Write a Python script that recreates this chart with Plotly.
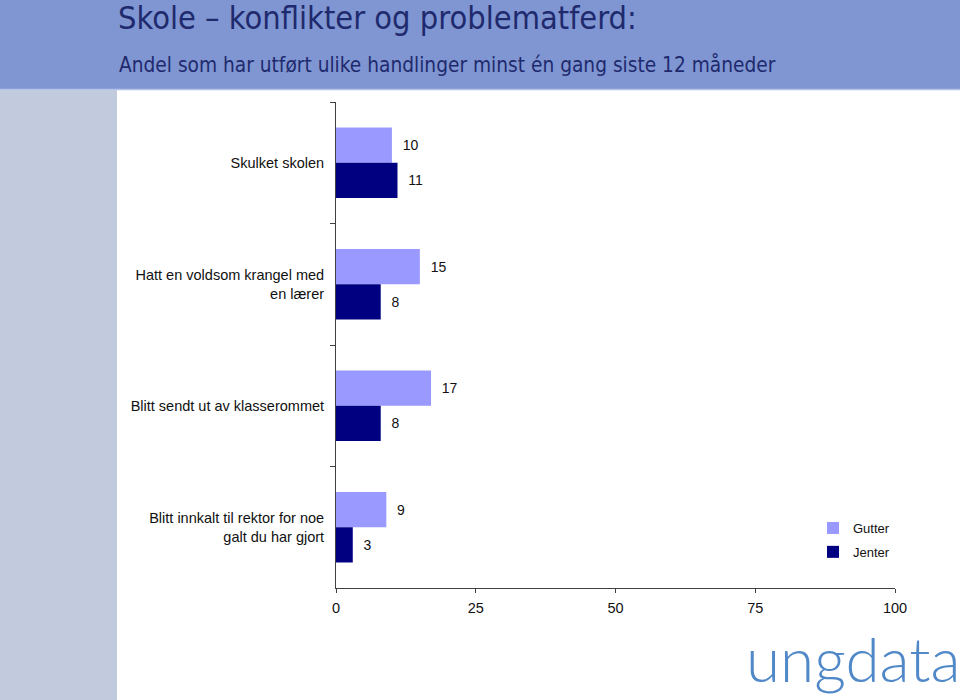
import plotly.graph_objects as go

categories = [
    "Skulket skolen",
    "Hatt en voldsom krangel med<br>en lærer",
    "Blitt sendt ut av klasserommet",
    "Blitt innkalt til rektor for noe<br>galt du har gjort",
]
gutter = [10, 15, 17, 9]
jenter = [11, 8, 8, 3]
x_ticks = [0, 25, 50, 75, 100]

title_text = "Skole – konflikter og problematferd:"
subtitle_text = "Andel som har utført ulike handlinger minst én gang siste 12 måneder"

W, H = 960, 700
L, R, T, B = 336, 65, 102, 112
pw, ph = W - L - R, H - T - B


def px(x):
    return (x - L) / pw


def py(y):
    return (H - B - y) / ph


FONT = "Liberation Sans, Arial, sans-serif"
HEAD_FONT = "DejaVu Sans Condensed, Liberation Sans Narrow, Arial Narrow, sans-serif"

fig = go.Figure()
fig.add_trace(go.Bar(
    y=categories, x=gutter, orientation="h", name="Gutter", legendgroup="g",
    marker=dict(color="#9999ff", line=dict(width=0)),
    text=[f"  {v}" for v in gutter], textposition="outside",
    textfont=dict(family=FONT, size=14, color="#111111"),
    cliponaxis=False,
))
fig.add_trace(go.Bar(
    y=categories, x=jenter, orientation="h", name="Jenter", legendgroup="j",
    marker=dict(color="#000080", line=dict(width=0)),
    text=[f"  {v}" for v in jenter], textposition="outside",
    textfont=dict(family=FONT, size=14, color="#111111"),
    cliponaxis=False,
))

shapes = [
    # header band
    dict(type="rect", xref="paper", yref="paper", x0=px(0), x1=px(W), y0=py(89), y1=py(0),
         fillcolor="#7f96d2", line=dict(width=0), layer="below"),
    dict(type="line", xref="paper", yref="paper", x0=px(0), x1=px(W), y0=py(89.5), y1=py(89.5),
         line=dict(color="#b4c2ea", width=1.5), layer="below"),
    # left strip
    dict(type="rect", xref="paper", yref="paper", x0=px(0), x1=px(117), y0=py(H), y1=py(90),
         fillcolor="#c1cbdd", line=dict(width=0), layer="below"),
]

annotations = [
    dict(text=title_text, xref="paper", yref="paper", x=px(116), y=py(18), xanchor="left",
         yanchor="middle", showarrow=False,
         font=dict(family=HEAD_FONT, size=32.3, color="#1f2a6e")),
    dict(text=subtitle_text, xref="paper", yref="paper", x=px(117), y=py(65), xanchor="left",
         yanchor="middle", showarrow=False,
         font=dict(family=HEAD_FONT, size=20.7, color="#1f2a6e")),
    dict(text="ungdata", xref="paper", yref="paper", x=px(963), y=py(658), xanchor="right",
         yanchor="middle", showarrow=False,
         font=dict(family="Lato, Open Sans, sans-serif", size=62, color="#5088c8", weight=300)),
]

fig.update_layout(
    width=W, height=H,
    margin=dict(l=L, r=R, t=T, b=B),
    paper_bgcolor="white", plot_bgcolor="white",
    barmode="group", bargap=0.42, bargroupgap=0,
    showlegend=True,
    legend=dict(x=px(813), y=py(513), xanchor="left", yanchor="top",
                font=dict(family=FONT, size=13, color="#111111"),
                bgcolor="rgba(0,0,0,0)", itemwidth=30, tracegroupgap=4,
                traceorder="grouped"),
    shapes=shapes,
    annotations=annotations,
    xaxis=dict(range=[0, 100], tickvals=x_ticks, ticktext=[str(v) for v in x_ticks],
               showgrid=False, zeroline=False, showline=True, linecolor="#404040", linewidth=1,
               ticks="outside", ticklen=4, tickcolor="#404040", ticklabelstandoff=3,
               tickfont=dict(family=FONT, size=14.5, color="#111111")),
    yaxis=dict(autorange="reversed", type="category", showgrid=False, zeroline=False,
               showline=True, linecolor="#404040", linewidth=1,
               ticks="outside", ticklen=5, tickcolor="#404040", tickson="boundaries",
               ticklabelstandoff=8,
               tickfont=dict(family=FONT, size=14.5, color="#111111")),
    font=dict(family=FONT),
)

fig.write_html("out.html", config={"displayModeBar": False},
               post_script="document.body.style.margin='0px';")
